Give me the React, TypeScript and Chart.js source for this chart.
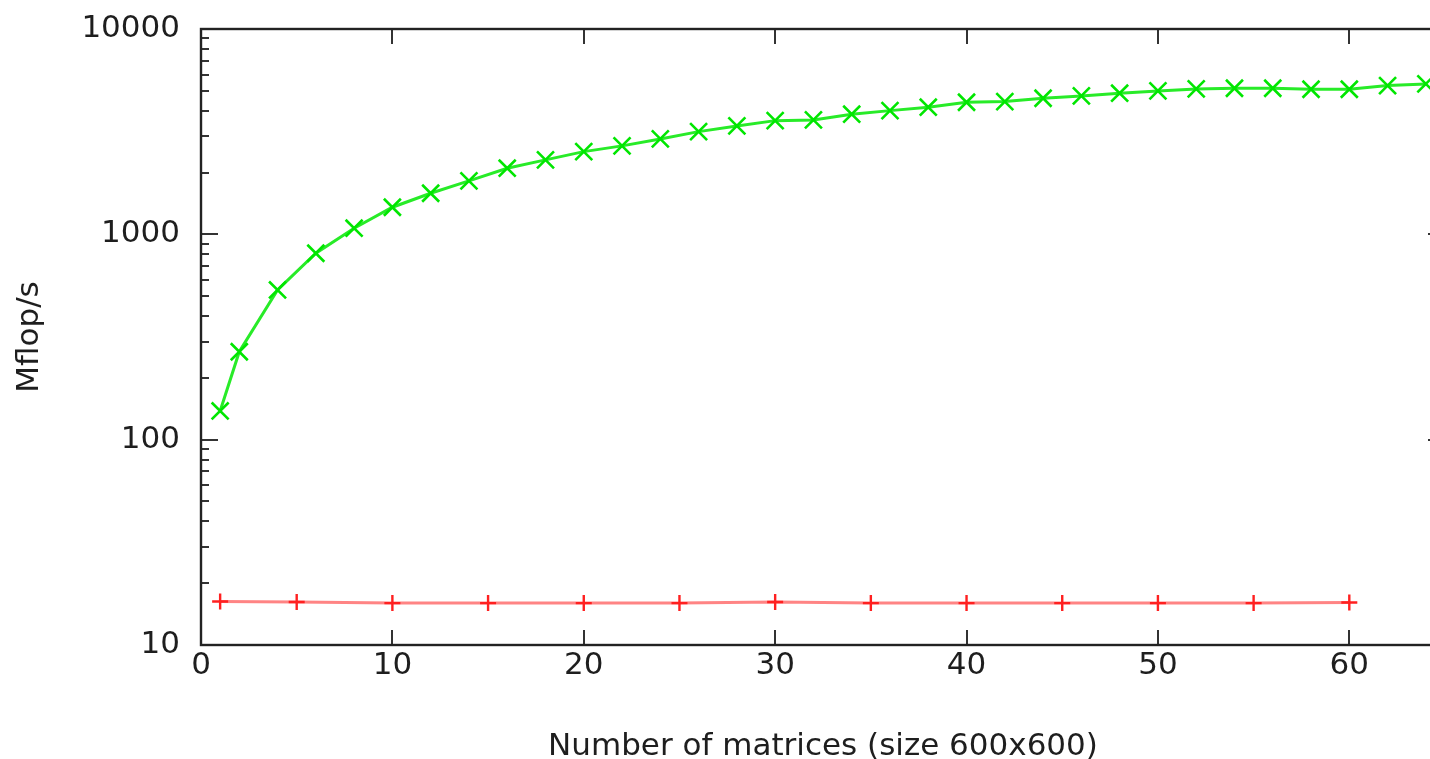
import React, { useEffect, useRef } from "react";
import { Chart, registerables } from "chart.js";

Chart.register(...registerables);

// ---- data ----
const greenX = [1, 2, 4, 6, 8, 10, 12, 14, 16, 18, 20, 22, 24, 26, 28, 30, 32, 34, 36, 38, 40, 42, 44, 46, 48, 50, 52, 54, 56, 58, 60, 62, 64];
const greenY = [138, 268, 536, 809, 1071, 1355, 1585, 1820, 2099, 2304, 2528, 2696, 2915, 3164, 3373, 3579, 3607, 3846, 4004, 4160, 4399, 4430, 4600, 4721, 4867, 4994, 5107, 5147, 5147, 5090, 5090, 5300, 5402];

const redX = [1, 5, 10, 15, 20, 25, 30, 35, 40, 45, 50, 55, 60];
const redY = [16.3, 16.2, 16.0, 16.0, 16.0, 16.0, 16.2, 16.0, 16.0, 16.0, 16.0, 16.0, 16.1];

const xTicks = [0, 10, 20, 30, 40, 50, 60];
const yTicks = [10, 100, 1000, 10000];
const yMinorTicks = [
  20, 30, 40, 50, 60, 70, 80, 90,
  200, 300, 400, 500, 600, 700, 800, 900,
  2000, 3000, 4000, 5000, 6000, 7000, 8000, 9000,
];

const xTitle = "Number of matrices (size 600x600)";
const yTitle = "Mflop/s";

const FONT = "'DejaVu Sans', sans-serif";
const TEXT = "#1e1e1e";

const framePlugin = {
  id: "gnuplotFrame",
  beforeDatasetsDraw(chart: any) {
    const { ctx, chartArea, scales } = chart;
    const { left, right, top, bottom } = chartArea;
    const x = scales.x;
    const y = scales.y;
    ctx.save();
    ctx.strokeStyle = "#333";
    ctx.lineWidth = 2;
    ctx.beginPath();
    xTicks.forEach((v) => {
      const px = Math.round(x.getPixelForValue(v));
      ctx.moveTo(px, bottom);
      ctx.lineTo(px, bottom - 15);
      ctx.moveTo(px, top);
      ctx.lineTo(px, top + 15);
    });
    yTicks.forEach((v) => {
      const py = Math.round(y.getPixelForValue(v));
      ctx.moveTo(left, py);
      ctx.lineTo(left + 17, py);
      ctx.moveTo(right, py);
      ctx.lineTo(right - 17, py);
    });
    yMinorTicks.forEach((v) => {
      const py = Math.round(y.getPixelForValue(v));
      ctx.moveTo(left, py);
      ctx.lineTo(left + 8, py);
      ctx.moveTo(right, py);
      ctx.lineTo(right - 8, py);
    });
    ctx.stroke();
    ctx.strokeStyle = "#222";
    ctx.lineWidth = 2.4;
    ctx.strokeRect(left, top, right - left, bottom - top);
    ctx.restore();
  },
};

export default function App() {
  const ref = useRef<HTMLCanvasElement | null>(null);

  useEffect(() => {
    if (!ref.current) return;
    const chart = new Chart(ref.current, {
      type: "line",
      data: {
        datasets: [
          {
            label: "red",
            data: redX.map((v, i) => ({ x: v, y: redY[i] })),
            borderColor: "rgba(255,50,50,0.6)",
            borderWidth: 3,
            pointStyle: "cross",
            pointRadius: 8,
            pointBorderWidth: 2.4,
            pointBorderColor: "#ff2020",
            pointBackgroundColor: "#ff2020",
            tension: 0,
            fill: false,
          },
          {
            label: "green",
            data: greenX.map((v, i) => ({ x: v, y: greenY[i] })),
            borderColor: "rgb(40,235,40)",
            borderWidth: 3,
            pointStyle: "crossRot",
            pointRadius: 12,
            pointBorderWidth: 2.6,
            pointBorderColor: "rgb(0,230,0)",
            pointBackgroundColor: "rgb(0,230,0)",
            tension: 0,
            fill: false,
          },
        ],
      },
      options: {
        responsive: false,
        animation: false,
        devicePixelRatio: 1,
        layout: { padding: { left: 0, top: 29, right: 15, bottom: 0 } },
        plugins: {
          legend: { display: false },
          tooltip: { enabled: false },
        },
        elements: { point: { hoverRadius: 12 } },
        scales: {
          x: {
            type: "linear",
            min: 0,
            max: 65,
            afterBuildTicks: (scale: any) => {
              scale.ticks = xTicks.map((v) => ({ value: v }));
            },
            afterFit: (scale: any) => {
              scale.height = 114;
              scale.paddingLeft = 0;
              scale.paddingRight = 0;
            },
            grid: { display: false, drawTicks: false },
            border: { display: false },
            ticks: {
              padding: 2,
              color: TEXT,
              font: { family: FONT, size: 31 },
              maxRotation: 0,
              autoSkip: false,
              callback: (v: any) => String(v),
            },
            title: {
              display: true,
              text: xTitle,
              color: TEXT,
              font: { family: FONT, size: 31, lineHeight: 1 },
              padding: { top: 0, bottom: -3 },
            },
          },
          y: {
            type: "logarithmic",
            min: 10,
            max: 10000,
            afterBuildTicks: (scale: any) => {
              scale.ticks = yTicks.map((v) => ({ value: v, major: true }));
            },
            afterFit: (scale: any) => {
              scale.width = 201;
              scale.paddingTop = 0;
              scale.paddingBottom = 0;
            },
            grid: { display: false, drawTicks: false },
            border: { display: false },
            ticks: {
              padding: 21,
              color: TEXT,
              font: { family: FONT, size: 31 },
              autoSkip: false,
              callback: (v: any) => String(v),
            },
            title: {
              display: true,
              text: yTitle,
              color: TEXT,
              font: { family: FONT, size: 31, lineHeight: 1.2 },
              padding: { top: 11, bottom: 0 },
            },
          },
        },
      },
      plugins: [framePlugin],
    });
    return () => chart.destroy();
  }, []);

  return (
    <div
      style={{
        position: "fixed",
        left: 0,
        top: 0,
        width: 1430,
        height: 759,
        overflow: "hidden",
        background: "#fff",
      }}
    >
      <canvas ref={ref} width={1460} height={759} style={{ display: "block" }} />
    </div>
  );
}
